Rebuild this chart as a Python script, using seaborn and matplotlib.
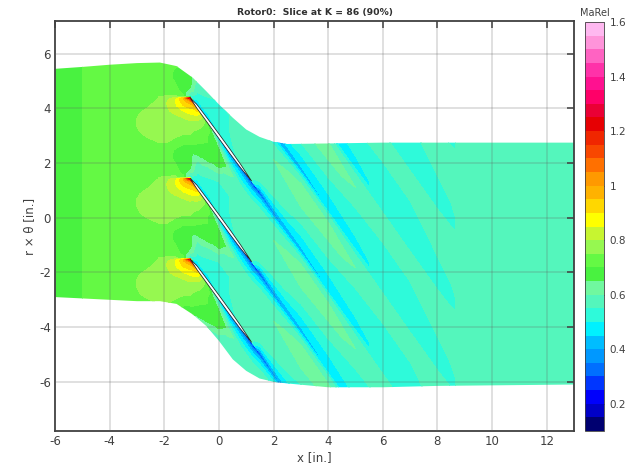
import numpy as np
import matplotlib
matplotlib.use("Agg")
import matplotlib.pyplot as plt
from matplotlib.patches import Polygon
import seaborn as sns

# domain edges
upper_x = [-6, -5, -4, -3, -2.16, -1.55, -0.95, -0.46, 0, 0.51, 1, 1.49, 2, 2.5, 4, 6, 8, 13]
upper_y = [5.45, 5.52, 5.6, 5.66, 5.68, 5.55, 5.12, 4.63, 4.15, 3.66, 3.23, 2.96, 2.78, 2.7, 2.72, 2.75, 2.75, 2.75]
lower_x = [-6, -5, -4, -3, -2.16, -1.55, -0.95, -0.46, 0, 0.51, 1, 1.49, 2, 2.5, 4, 6, 8, 13]
lower_y = [-2.9, -2.95, -3.0, -3.05, -3.05, -3.15, -3.54, -3.96, -4.5, -5.18, -5.6, -5.88, -6.0, -6.06, -6.2, -6.2, -6.15, -6.1]

pitch = 2.95

# axial stations, the y of one blade/wake line at each, and pitchwise offsets above it
stations = [-6.5, -5.1, -4.9, -4, -3.2, -3.05, -2.9, -2.6, -2.2, -1.9, -1.6, -1.3, -1.05, -0.8, -0.6, -0.4, -0.2,
            0, 0.2, 0.4, 0.8, 1.2, 1.5, 2, 3, 4, 5, 6, 7, 8, 9, 10, 13.5]
line_y = [-1.5, -1.5, -1.5, -1.5, -1.5, -1.5, -1.5, -1.5, -1.5, -1.5, -1.5, -1.5, -1.5, -1.85, -2.12, -2.39, -2.66,
          -2.93, -3.2, -3.47, -4.01, -4.56, -4.97, -5.68, -7.1, -8.52, -9.94, -11.36, -12.78, -14.2, -15.62, -17.04, -22.0]
offsets = [0.03, 0.2, 0.4, 0.7, 1.0, 1.3, 1.6, 1.9, 2.2, 2.45, 2.65, 2.8, 2.88, 2.93]

# MaRel per station (rows) and offset (columns)
mach = [
    [.67, .67, .67, .67, .67, .67, .67, .67, .67, .67, .67, .67, .67, .67],
    [.67, .67, .67, .67, .67, .67, .67, .67, .67, .67, .67, .67, .67, .67],
    [.72, .72, .72, .72, .72, .72, .72, .72, .72, .72, .72, .72, .72, .72],
    [.72, .72, .72, .72, .72, .72, .72, .72, .72, .72, .72, .72, .72, .72],
    [.72, .72, .72, .72, .72, .72, .72, .72, .73, .72, .72, .72, .72, .72],
    [.72, .72, .72, .72, .72, .72, .73, .745, .745, .73, .72, .72, .72, .72],
    [.72, .72, .72, .72, .72, .72, .745, .76, .76, .745, .73, .72, .72, .72],
    [.73, .72, .72, .72, .72, .735, .76, .77, .77, .76, .745, .735, .73, .73],
    [.75, .73, .72, .72, .72, .75, .77, .775, .78, .78, .77, .76, .755, .75],
    [.755, .735, .72, .72, .73, .75, .77, .78, .785, .795, .80, .80, .79, .78],
    [.76, .73, .71, .69, .69, .735, .76, .78, .79, .81, .84, .85, .84, .82],
    [.72, .68, .67, .67, .67, .71, .75, .78, .80, .85, .90, .93, .95, .95],
    [.50, .60, .66, .67, .67, .71, .75, .78, .81, .88, .92, .98, 1.1, 1.3],
    [.38, .47, .53, .57, .60, .67, .70, .72, .76, .80, .85, .90, .93, .93],
    [.45, .49, .52, .55, .58, .64, .68, .70, .72, .74, .76, .78, .76, .70],
    [.47, .49, .51, .53, .56, .60, .67, .70, .70, .70, .72, .70, .66, .58],
    [.49, .50, .52, .53, .54, .57, .63, .69, .69, .70, .66, .60, .53, .48],
    [.50, .51, .52, .53, .54, .55, .60, .67, .68, .66, .58, .50, .42, .40],
    [.51, .52, .53, .54, .54, .55, .56, .60, .66, .60, .52, .44, .37, .34],
    [.53, .53, .54, .55, .55, .55, .56, .58, .62, .55, .47, .40, .33, .30],
    [.56, .57, .58, .58, .58, .58, .58, .58, .56, .50, .45, .38, .30, .25],
    [.56, .58, .58, .58, .58, .58, .58, .58, .56, .50, .44, .35, .25, .20],
    [.35, .48, .55, .58, .59, .59, .59, .59, .58, .53, .47, .40, .30, .25],
    [.42, .47, .52, .57, .60, .60, .60, .60, .58, .55, .50, .43, .37, .33],
    [.43, .46, .48, .52, .55, .58, .60, .62, .62, .60, .56, .50, .45, .42],
    [.45, .47, .49, .51, .54, .56, .58, .61, .61, .60, .58, .52, .48, .46],
    [.49, .49, .50, .51, .52, .54, .56, .59, .60, .59, .56, .52, .50, .49],
    [.51, .51, .51, .51, .52, .53, .55, .57, .59, .59, .56, .53, .52, .51],
    [.52, .52, .52, .52, .53, .54, .55, .57, .59, .59, .56, .53, .52, .52],
    [.53, .53, .53, .54, .55, .56, .56, .57, .58, .58, .56, .54, .53, .53],
    [.56, .56, .56, .56, .56, .57, .57, .57, .57, .57, .57, .56, .56, .56],
    [.57, .57, .57, .57, .57, .57, .57, .57, .57, .57, .57, .57, .57, .57],
    [.57, .57, .57, .57, .57, .57, .57, .57, .57, .57, .57, .57, .57, .57],
]

# one blade, lowest of the three
blade_x = [-1.06, -0.8, -0.4, 0, 0.4, 0.8, 1.2]
blade_top = [-1.5, -1.76, -2.29, -2.83, -3.38, -3.95, -4.56]
blade_bot = [-1.5, -1.9, -2.45, -3.0, -3.55, -4.08, -4.56]
blade_rows = [0, 1, 2]

bar_ticks = [0.2, 0.4, 0.6, 0.8, 1, 1.2, 1.4, 1.6]
bar_colors = ["#000070", "#0000d0", "#0000ff", "#0038ff", "#0070ff", "#0098ff", "#00c0ff", "#00f4ff",
              "#30fad8", "#55f6bc", "#70f8a0", "#48f240", "#66f944", "#98f850", "#c8f530", "#ffff00",
              "#ffd800", "#ffb400", "#ff9800", "#ff7000", "#f84800", "#f02800", "#e60000", "#e80030",
              "#ff0068", "#ff1090", "#ff30a8", "#ff60c0", "#ff90d8", "#ffb8f0"]

sns.set_theme(style="white")
plt.rcParams["font.family"] = "DejaVu Sans"
plt.rcParams["axes.unicode_minus"] = False
gray = "#404040"

fig = plt.figure(figsize=(6.32, 4.67), dpi=100)
ax = fig.add_axes([55 / 632, 1 - 431 / 467, 519 / 632, 410 / 467])
cax = fig.add_axes([585 / 632, 1 - 431 / 467, 19 / 632, 409 / 467])

# stack the passage pattern so it covers the whole domain
xs = np.array(stations)
ys = []
zs = []
for k in range(-2, 10):
    for j, off in enumerate(offsets):
        ys.append(np.array(line_y) + pitch * k + off)
        zs.append([row[j] for row in mach])
X = np.tile(xs, (len(ys), 1))
Y = np.array(ys)
Z = np.array(zs)

levels = np.arange(0.1, 1.6001, 0.05)
palette = sns.blend_palette(bar_colors, n_colors=len(bar_colors))
cs = ax.contourf(X, Y, Z, levels=levels, colors=palette)

outline = Polygon(list(zip(upper_x, upper_y)) + list(zip(lower_x, lower_y))[::-1],
                  transform=ax.transData, fc="none", ec="none")
ax.add_patch(outline)
cs.set_clip_path(outline)

# blades
for k in blade_rows:
    bx = blade_x + blade_x[::-1]
    by = [v + k * pitch for v in blade_top] + [v + k * pitch for v in blade_bot[::-1]]
    ax.fill(bx, by, fc="white", ec="#202020", lw=0.55, zorder=3)

ax.set_xlim(-6, 13)
ax.set_ylim(-7.8, 7.2)
ax.set_xticks(np.arange(-6, 13, 2))
ax.set_yticks(np.arange(-6, 7, 2))
ax.set_axisbelow(False)
ax.grid(True, color="#606060", alpha=0.25, lw=1.1)
ax.tick_params(direction="in", top=True, right=True, length=5, width=1.1, color=gray,
               labelcolor=gray, labelsize=8.5, pad=3)
for s in ax.spines.values():
    s.set_color(gray)
    s.set_linewidth(1.3)
ax.set_xlabel("x [in.]", fontsize=8.5, color=gray, labelpad=2)
ax.set_ylabel("r \u00d7 \u03b8 [in.]", fontsize=8.5, color=gray, labelpad=2)
ax.set_title("Rotor0:  Slice at K = 86 (90%)", fontsize=6.7, fontweight="bold", color="#303030", pad=4)

cb = fig.colorbar(cs, cax=cax, ticks=bar_ticks)
cb.ax.set_yticklabels(["%g" % t for t in bar_ticks])
cb.ax.tick_params(direction="in", length=2, width=0.6, color=gray, labelcolor=gray, labelsize=7.5, pad=4)
cb.outline.set_edgecolor(gray)
cb.outline.set_linewidth(0.6)
cax.set_title("MaRel", fontsize=7, color=gray, pad=4)

fig.savefig("out.png", dpi=100)
